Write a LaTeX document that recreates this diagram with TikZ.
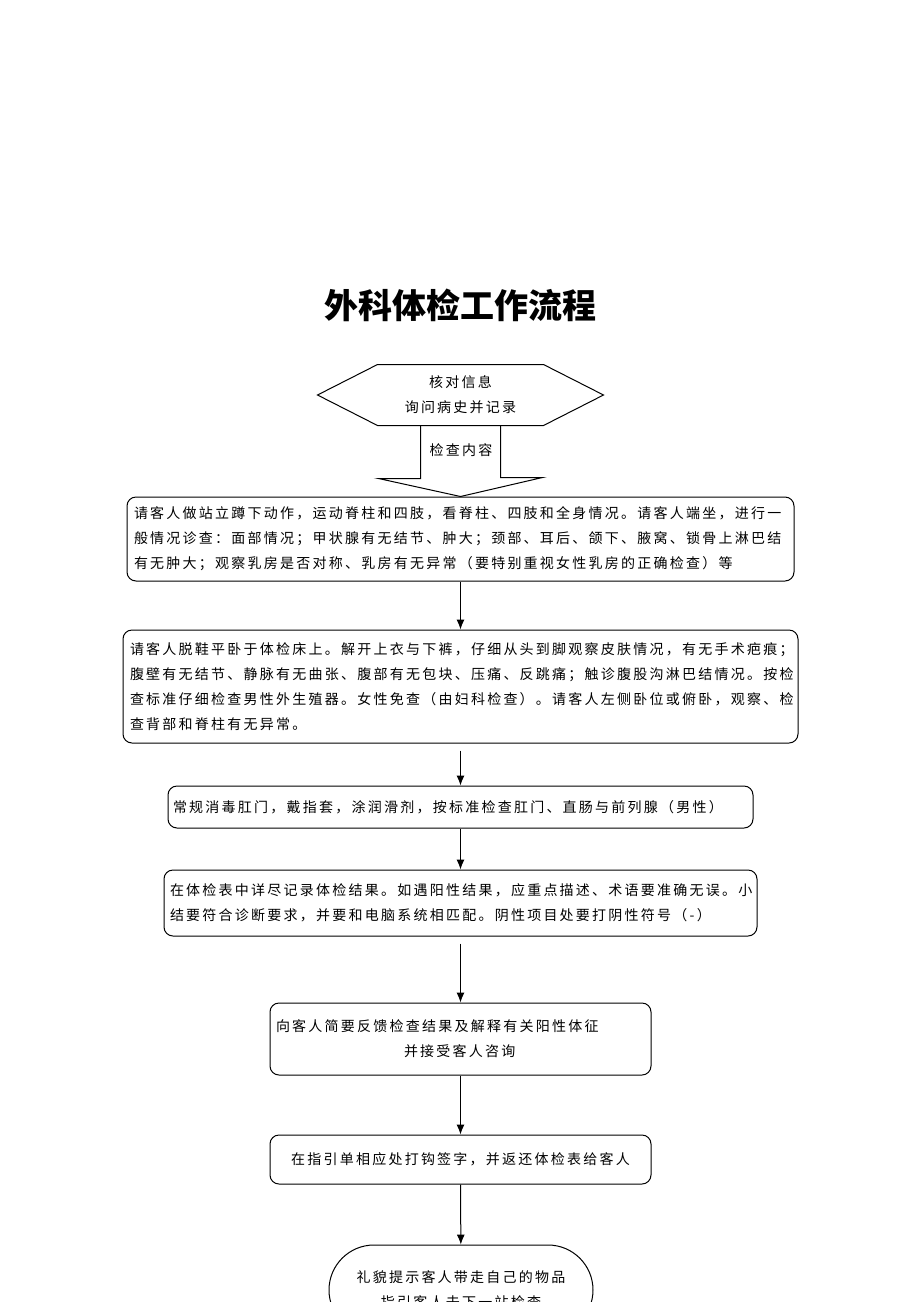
\documentclass[tikz,border=0pt]{standalone}
\usepackage{fontspec}
\newfontfamily\cjk[LetterSpace=16]{Noto Sans CJK SC}
\newfontfamily\cjktitle{Noto Sans CJK SC}
\usepackage{tikz}
\usetikzlibrary{shapes, arrows.meta, positioning, shapes.misc}
\tikzset{%
  block/.style={rectangle, draw, rounded corners=9pt, align=left, inner xsep=7pt, inner ysep=2pt, font=\cjk\fontsize{14}{25}\selectfont},
  centerblock/.style={block, align=center},
  endblock/.style={rounded rectangle, draw, align=center, inner sep=2pt, font=\cjk\fontsize{14}{25}\selectfont},
  hexblock/.style={rectangle, minimum width=285, minimum height=60, align=center, inner sep=0pt, font=\cjk\fontsize{14}{25}\selectfont},
  label/.style={font=\cjk\fontsize{14}{25}\selectfont, inner sep=1pt},
  line/.style={draw, -{Latex[length=10pt, width=8pt]}},
  bigarrow/.style={draw, line join=miter}}

\begin{document}
\begin{tikzpicture}[x=1pt, y=-1pt, line width=1pt]
    \useasboundingbox (0,0) rectangle (920,1302);
    \node [font=\cjktitle\bfseries\fontsize{34}{40}\selectfont] (title) at (460,305) {外科体检工作流程};

    % start: hexagon and the big arrow below it
    \node [hexblock] (info) at (460.5,395) {核对信息\\询问病史并记录};
    \draw (info.west) -- ([xshift=60pt]info.north west) -- ([xshift=-60pt]info.north east)
      -- (info.east) -- ([xshift=-60pt]info.south east) -- ([xshift=60pt]info.south west) -- cycle;
    \node [label] (check) at (461,450) {检查内容};

    \node [block, text width=653, minimum height=84] (box1) at (460.5,539) {请客人做站立蹲下动作，运动脊柱和四肢，看脊柱、四肢和全身情况。请客人端坐，进行一\\般情况诊查：面部情况；甲状腺有无结节、肿大；颈部、耳后、颌下、腋窝、锁骨上淋巴结\\有无肿大；观察乳房是否对称、乳房有无异常（要特别重视女性乳房的正确检查）等};
    \node [block, text width=661, minimum height=113] (box2) at (460.5,686.5) {请客人脱鞋平卧于体检床上。解开上衣与下裤，仔细从头到脚观察皮肤情况，有无手术疤痕；\\腹壁有无结节、静脉有无曲张、腹部有无包块、压痛、反跳痛；触诊腹股沟淋巴结情况。按检\\查标准仔细检查男性外生殖器。女性免查（由妇科检查）。请客人左侧卧位或俯卧，观察、检\\查背部和脊柱有无异常。};
    \node [block, inner xsep=5pt, text width=575, minimum height=42] (box3) at (460.5,807) {常规消毒肛门，戴指套，涂润滑剂，按标准检查肛门、直肠与前列腺（男性）};
    \node [block, inner xsep=6pt, text width=581, minimum height=66] (box4) at (460.5,903) {在体检表中详尽记录体检结果。如遇阳性结果，应重点描述、术语要准确无误。小\\结要符合诊断要求，并要和电脑系统相匹配。阴性项目处要打阴性符号（-）};
    \node [block, inner xsep=6pt, text width=369, minimum height=72] (box5) at (460.5,1039) {向客人简要反馈检查结果及解释有关阳性体征\\\hspace*{128pt}并接受客人咨询};
    \node [centerblock, inner xsep=6pt, text width=369, minimum height=49] (box6) at (460.5,1159.5) {在指引单相应处打钩签字，并返还体检表给客人};
    \node [endblock, minimum width=268, minimum height=90] (box7) at (461,1290) {礼貌提示客人带走自己的物品\\指引客人去下一站检查};

    \draw [bigarrow] ([xshift=-40pt]info.south) -- ++(0,53) -- ++(-42,0) -- (box1.north)
      -- ++(82,-19) -- ++(-42,0) -- ([xshift=40pt]info.south);

    \path [line] (box1) -- (box2);
    \path [line, shorten <=7pt] (box2) -- (box3);
    \path [line] (box3) -- (box4);
    \path [line, shorten <=7pt] (box4) -- (box5);
    \path [line] (box5) -- (box6);
    \path [line] (box6) -- (box7);
\end{tikzpicture}
\end{document}
